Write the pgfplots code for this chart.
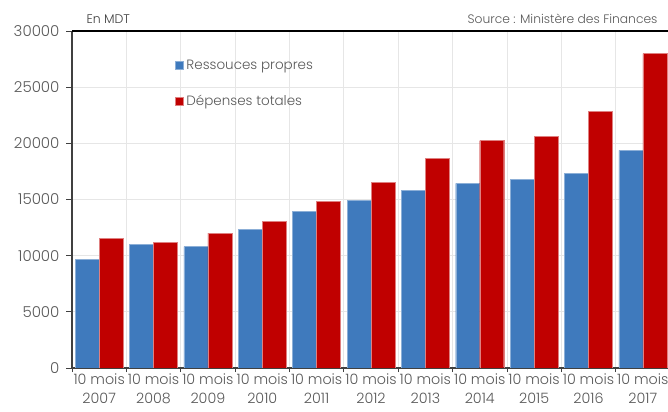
\documentclass[border=0pt]{standalone}
\usepackage{pgfplots}
\pgfplotsset{compat=1.18}
\usepackage{fontspec}
\setmainfont{Poppins}[UprightFont={* Light}]
\definecolor{cblue}{HTML}{3F7ABD}
\definecolor{cred}{HTML}{C00000}
\definecolor{tgray}{HTML}{595959}
\definecolor{gridc}{HTML}{E6E6E6}
\begin{document}
\begin{tikzpicture}
\begin{axis}[
  at={(0,0)}, anchor=south west,
  scale only axis, width=598bp, height=337bp,
  xmin=-0.5, xmax=10.5, ymin=0, ymax=30000,
  ybar=0pt, bar width=24bp,
  axis x line*=bottom, axis y line*=left,
  axis line style={draw=black!75, line width=1.3bp},
  xtick={0,...,10},
  xticklabels={{10 mois\\2007},{10 mois\\2008},{10 mois\\2009},{10 mois\\2010},{10 mois\\2011},{10 mois\\2012},{10 mois\\2013},{10 mois\\2014},{10 mois\\2015},{10 mois\\2016},{10 mois\\2017}},
  x tick label style={align=center, font=\fontsize{14.3bp}{19bp}\selectfont, text=tgray, yshift=1bp, inner ysep=1bp},
  major x tick style={draw=none},
  minor xtick={-0.5,0.5,...,10.5},
  minor x tick style={draw=black!75, line width=0.8bp},
  minor tick length=4bp,
  xminorgrids, yminorgrids=false,
  minor grid style={draw=gridc, line width=0.8bp},
  ytick={0,5000,...,30000},
  ymajorgrids,
  major grid style={draw=gridc, line width=0.8bp},
  y tick label style={font=\fontsize{15bp}{17bp}\selectfont, text=tgray, xshift=-3bp},
  major y tick style={draw=black!75, line width=0.8bp},
  major tick length=6bp,
  tick align=outside,
  /pgf/number format/1000 sep={},
  /pgf/number format/assume math mode=true,
  scaled y ticks=false,
  legend style={at={(0.172,0.92)}, anchor=north west, draw=none, fill=none,
    font=\fontsize{13.5bp}{16bp}\selectfont, text=tgray, row sep=20bp,
    inner sep=0pt, nodes={inner xsep=3bp}},
  legend cell align=left,
  legend image code/.code={\fill[#1] (0bp,-4bp) rectangle (8bp,4bp);},
]
\addplot[fill=cblue, draw=cblue!60!white, line width=0.4bp] coordinates {
(0,9650) (1,10980) (2,10800) (3,12370) (4,13920) (5,14930) (6,15820) (7,16440) (8,16770) (9,17330) (10,19380)};
\addplot[fill=cred, draw=cred!50!white, line width=0.4bp] coordinates {
(0,11520) (1,11160) (2,12000) (3,13030) (4,14840) (5,16550) (6,18660) (7,20240) (8,20650) (9,22870) (10,27980)};
\legend{Ressouces propres, Dépenses totales}
\draw[black, line width=2bp] (rel axis cs:0,1) -- (rel axis cs:1,1);
\end{axis}
\node[anchor=base west, font=\fontsize{12.5bp}{14bp}\selectfont, text=black!75] at (11bp,344bp) {En MDT};
\node[anchor=base east, font=\fontsize{12.3bp}{14bp}\selectfont, text=tgray] at (589bp,344bp) {Source : Ministère des Finances};
\pgfresetboundingbox
\path[use as bounding box] (-72bp,-44bp) rectangle (596bp,368bp);
\end{tikzpicture}
\end{document}
